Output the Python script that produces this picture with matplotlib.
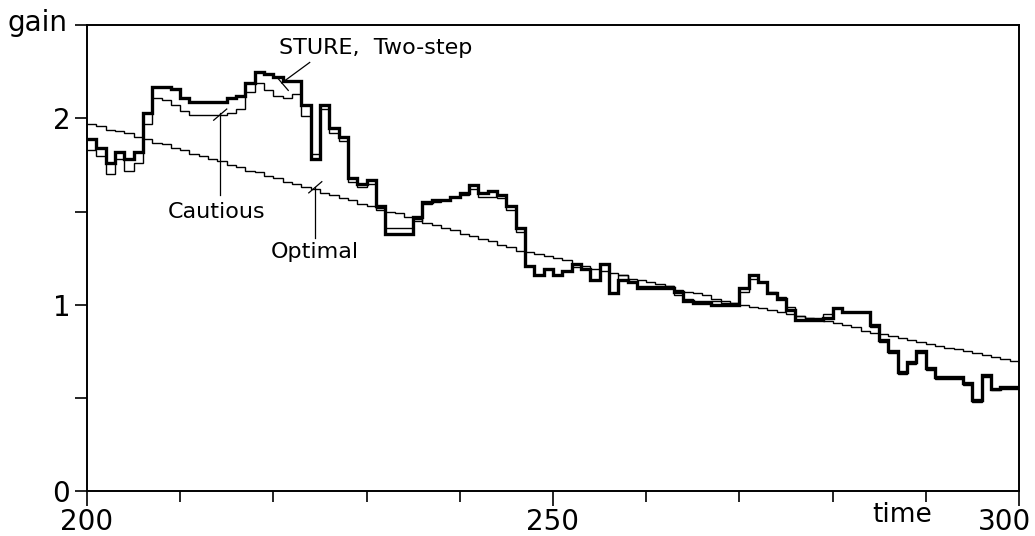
import numpy as np
import matplotlib
matplotlib.use('Agg')
import matplotlib.pyplot as plt
from matplotlib.ticker import MultipleLocator
from matplotlib.transforms import ScaledTranslation

plt.rcParams['font.family'] = ['DejaVu Sans']

# ---- data (gain per time step, t = 200 .. 299) ----
t_start = 200
t_end = 300

sture = [1.89, 1.84, 1.76, 1.82, 1.78, 1.82, 2.03, 2.17, 2.17, 2.16,
         2.11, 2.09, 2.09, 2.09, 2.09, 2.11, 2.12, 2.19, 2.25, 2.24,
         2.22, 2.20, 2.20, 2.07, 1.78, 2.07, 1.95, 1.90, 1.68, 1.65,
         1.67, 1.53, 1.38, 1.38, 1.38, 1.47, 1.55, 1.56, 1.56, 1.58,
         1.60, 1.64, 1.60, 1.61, 1.59, 1.53, 1.41, 1.21, 1.16, 1.19,
         1.16, 1.18, 1.22, 1.19, 1.13, 1.22, 1.06, 1.13, 1.12, 1.09,
         1.09, 1.09, 1.09, 1.07, 1.02, 1.01, 1.01, 1.00, 1.00, 1.00,
         1.09, 1.16, 1.12, 1.06, 1.03, 0.97, 0.92, 0.92, 0.92, 0.93,
         0.98, 0.96, 0.96, 0.96, 0.89, 0.81, 0.75, 0.64, 0.69, 0.75,
         0.66, 0.61, 0.61, 0.61, 0.58, 0.49, 0.62, 0.55, 0.56, 0.56]

cautious = [1.83, 1.80, 1.70, 1.78, 1.72, 1.76, 1.97, 2.11, 2.10, 2.07,
            2.04, 2.02, 2.02, 2.02, 2.02, 2.03, 2.05, 2.14, 2.19, 2.15,
            2.12, 2.11, 2.13, 2.01, 1.81, 2.05, 1.92, 1.88, 1.66, 1.63,
            1.65, 1.51, 1.41, 1.41, 1.41, 1.45, 1.54, 1.55, 1.56, 1.58,
            1.59, 1.62, 1.58, 1.58, 1.57, 1.51, 1.39, 1.21, 1.16, 1.19,
            1.16, 1.18, 1.20, 1.19, 1.13, 1.22, 1.06, 1.16, 1.12, 1.10,
            1.10, 1.10, 1.10, 1.05, 1.03, 1.02, 1.02, 1.02, 1.01, 1.01,
            1.07, 1.14, 1.12, 1.07, 1.04, 0.99, 0.94, 0.93, 0.93, 0.95,
            0.98, 0.96, 0.96, 0.96, 0.88, 0.80, 0.74, 0.63, 0.68, 0.74,
            0.65, 0.60, 0.60, 0.60, 0.57, 0.48, 0.61, 0.54, 0.55, 0.55]

optimal = [1.97, 1.96, 1.94, 1.93, 1.92, 1.90, 1.89, 1.87, 1.86, 1.84,
           1.83, 1.81, 1.80, 1.78, 1.77, 1.75, 1.74, 1.72, 1.71, 1.69,
           1.68, 1.66, 1.65, 1.63, 1.62, 1.60, 1.59, 1.57, 1.56, 1.54,
           1.53, 1.52, 1.50, 1.49, 1.47, 1.46, 1.44, 1.43, 1.41, 1.40,
           1.38, 1.37, 1.35, 1.34, 1.32, 1.31, 1.29, 1.28, 1.27, 1.26,
           1.25, 1.24, 1.22, 1.21, 1.19, 1.18, 1.17, 1.16, 1.14, 1.13,
           1.12, 1.11, 1.10, 1.08, 1.07, 1.06, 1.05, 1.03, 1.02, 1.01,
           1.00, 0.99, 0.98, 0.97, 0.96, 0.95, 0.94, 0.93, 0.92, 0.91,
           0.90, 0.89, 0.88, 0.86, 0.85, 0.84, 0.83, 0.82, 0.81, 0.80,
           0.79, 0.78, 0.77, 0.76, 0.75, 0.74, 0.73, 0.72, 0.71, 0.70]

edges = np.arange(t_start, t_end + 1)

fig = plt.figure(figsize=(10.35, 5.36), dpi=100)
ax = fig.add_axes([0.084, 0.084, 0.9005, 0.869])

ax.stairs(optimal, edges, baseline=None, color='black', lw=1.0)
ax.stairs(cautious, edges, baseline=None, color='black', lw=1.0)
ax.stairs(sture, edges, baseline=None, color='black', lw=2.4)

ax.set_xlim(200, 300)
ax.set_ylim(0, 2.5)

for s in ax.spines.values():
    s.set_linewidth(1.4)

ax.set_xticks([200, 250, 300])
ax.xaxis.set_minor_locator(MultipleLocator(10))
ax.set_yticks([0, 1, 2])
ax.yaxis.set_minor_locator(MultipleLocator(0.5))
ax.tick_params(axis='both', which='both', direction='out', width=1.2,
               labelsize=20, color='black')
ax.tick_params(axis='x', which='major', length=11, pad=1)
ax.tick_params(axis='x', which='minor', length=8)
ax.tick_params(axis='y', which='both', length=9, pad=3)

# the last x label sits inside the frame edge, as in the original
last = ax.get_xticklabels()[-1]
last.set_transform(last.get_transform()
                   + ScaledTranslation(-14 / 100, 0, fig.dpi_scale_trans))

# axis names
fig.text(0.036, 0.957, 'gain', fontsize=20, ha='center', va='center')
ax.text(287.5, -0.06, 'time', fontsize=19, ha='center', va='top',
        transform=ax.transData)

# curve labels with leader lines
ax.text(231.0, 2.38, 'STURE,  Two-step', fontsize=16, ha='center', va='center')
ax.plot([223.9, 220.9], [2.30, 2.19], color='black', lw=0.9)
ax.plot([220.4, 221.6], [2.22, 2.15], color='black', lw=0.9)

ax.text(213.9, 1.50, 'Cautious', fontsize=16, ha='center', va='center')
ax.plot([214.3, 214.3], [1.59, 2.03], color='black', lw=0.9)
ax.plot([213.6, 215.0], [1.99, 2.05], color='black', lw=0.9)

ax.text(224.5, 1.28, 'Optimal', fontsize=16, ha='center', va='center')
ax.plot([224.5, 224.5], [1.36, 1.63], color='black', lw=0.9)
ax.plot([223.8, 225.2], [1.60, 1.66], color='black', lw=0.9)

fig.savefig('out.png', dpi=100)
